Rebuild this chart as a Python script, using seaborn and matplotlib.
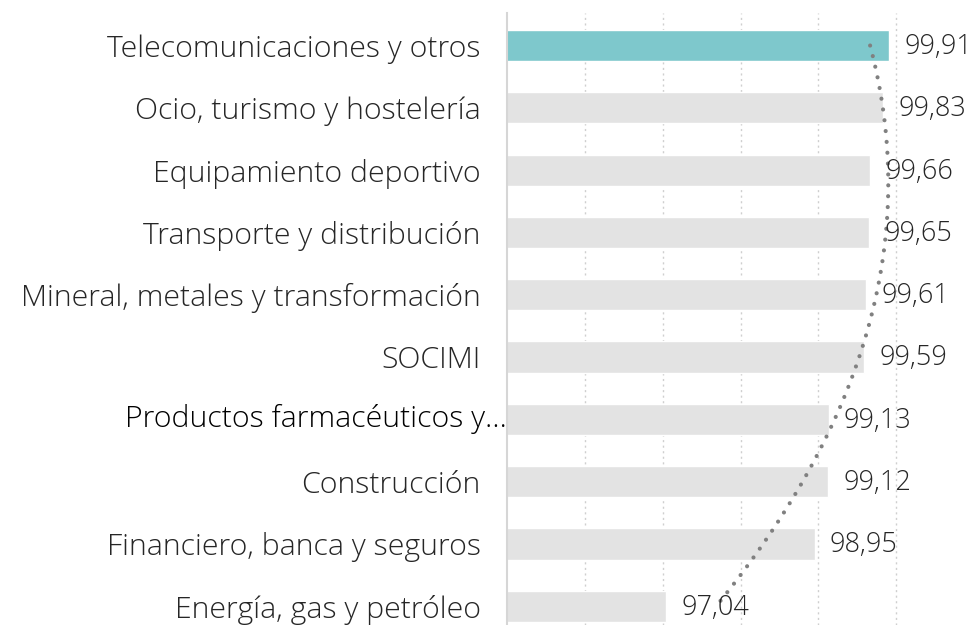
import numpy as np
import pandas as pd
import matplotlib
matplotlib.use('Agg')
import matplotlib.pyplot as plt
import seaborn as sns

# Data
sectors = ['Telecomunicaciones y otros', 'Ocio, turismo y hostelería',
           'Equipamiento deportivo', 'Transporte y distribución',
           'Mineral, metales y transformación', 'SOCIMI',
           'Productos farmacéuticos y…', 'Construcción',
           'Financiero, banca y seguros', 'Energía, gas y petróleo']
values = [99.91, 99.83, 99.66, 99.65, 99.61, 99.59, 99.13, 99.12, 98.95, 97.04]
highlight = 'Telecomunicaciones y otros'
bold_label = 'Productos farmacéuticos y…'

df = pd.DataFrame({'sector': sectors, 'value': values})
colors = {s: ('#7EC8CC' if s == highlight else '#E3E3E3') for s in sectors}

sns.set_style('white')
plt.rcParams['font.family'] = ['Open Sans', 'DejaVu Sans']
FS = 21.8
FS_VAL = 19.5
W = 300

fig = plt.figure(figsize=(9.68, 6.25), dpi=100)
ax = fig.add_axes([0.5238, 0.0, 0.4762, 0.979])

sns.barplot(data=df, y='sector', x='value', hue='sector', palette=colors,
            legend=False, width=0.5, saturation=1, ax=ax, orient='h')

ax.set_xlim(95, 100.92)
ax.set_ylim(len(sectors) - 0.7, -0.52)
ax.set_xticks([96, 97, 98, 99, 100])
ax.xaxis.grid(True, linestyle=(0, (1.5, 2.5)), color='#CFCFCF', linewidth=1)
ax.set_axisbelow(True)
ax.tick_params(axis='x', bottom=False, labelbottom=False)
ax.tick_params(axis='y', left=False)
ax.set_xlabel('')
ax.set_ylabel('')
for side in ['top', 'right', 'bottom']:
    ax.spines[side].set_visible(False)
ax.spines['left'].set_color('#D6D6D6')
ax.spines['left'].set_linewidth(1.5)

# category labels
ax.set_yticks(range(len(sectors)))
ax.set_yticklabels(['' if s == bold_label else s for s in sectors],
                   fontsize=FS, color='#262626', fontweight=W)
ax.tick_params(axis='y', pad=15.5)
i_b = sectors.index(bold_label)
ax.text(95, i_b, bold_label, ha='right', va='center', fontsize=FS,
        color='#000000', fontweight=W, clip_on=False)

# value labels
for i, v in enumerate(values):
    ax.annotate(f'{v:.2f}'.replace('.', ','), (v, i), xytext=(11, -1),
                textcoords='offset points', ha='left', va='center',
                fontsize=FS_VAL, color='#262626', fontweight=W,
                annotation_clip=False)

# quadratic trend line
idx = np.arange(len(values))
coef = np.polyfit(idx, values, 2)
yy = np.linspace(0, len(values) - 1, 200)
ax.plot(np.polyval(coef, yy), yy, color='#808080', linewidth=3,
        linestyle=(0, (0.01, 2.6)), dash_capstyle='round')

fig.savefig('out.png', dpi=100)
